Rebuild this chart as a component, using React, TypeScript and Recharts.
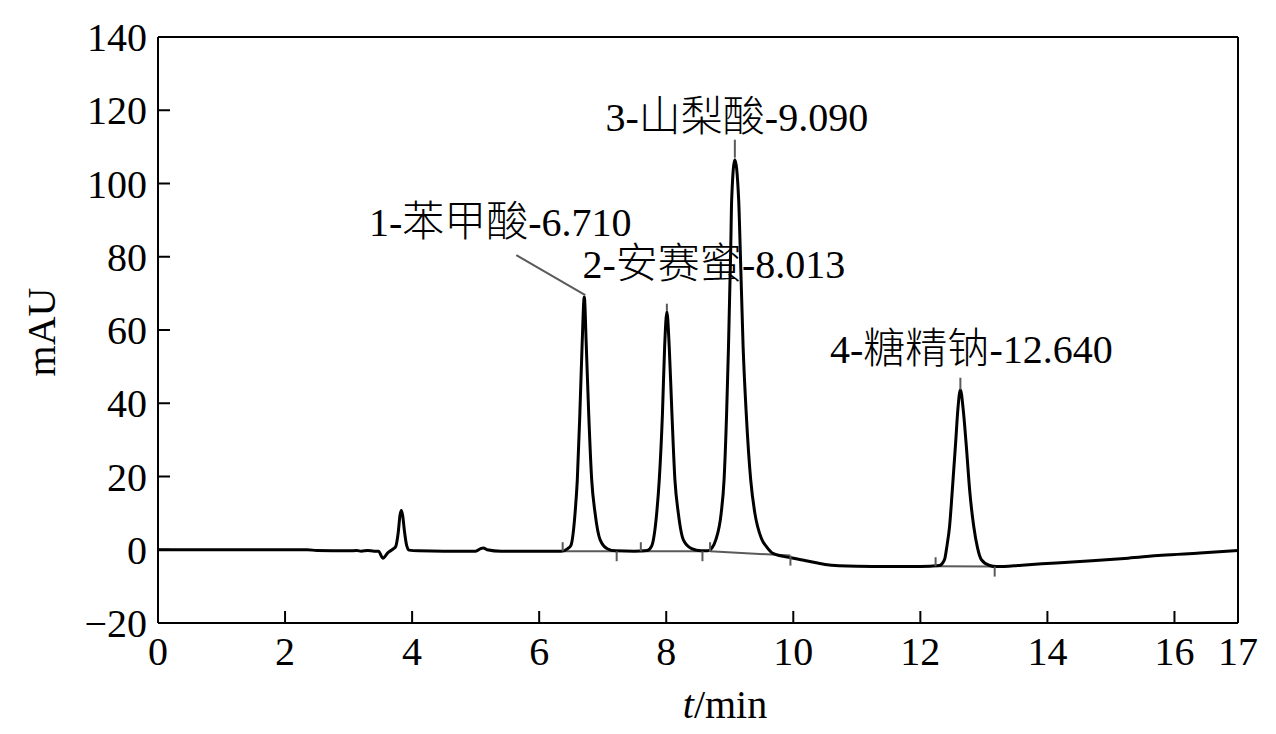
import React from "react";
import {
  ComposedChart,
  Line,
  Scatter,
  XAxis,
  YAxis,
  ReferenceLine,
} from "recharts";

// chromatogram trace (time in min, signal in mAU)
const traceTime = [
  0, 1, 2, 2.35, 2.5, 3.0, 3.13, 3.2, 3.3, 3.4, 3.47, 3.54, 3.62, 3.7, 3.74,
  3.78, 3.81, 3.83, 3.85, 3.88, 3.91, 3.95, 4.1, 4.5, 5.0, 5.08, 5.12, 5.18,
  5.4, 6.0, 6.35, 6.45, 6.5, 6.565, 6.6, 6.64, 6.675, 6.71, 6.742, 6.78, 6.827,
  6.88, 6.96, 7.08, 7.2, 7.5, 7.7, 7.77, 7.85, 7.89, 7.94, 7.975, 8.01, 8.047,
  8.09, 8.137, 8.19, 8.27, 8.4, 8.55, 8.66, 8.72, 8.78, 8.865, 8.91, 8.95, 8.98,
  9.015, 9.03, 9.08, 9.14, 9.165, 9.21, 9.26, 9.33, 9.395, 9.5, 9.58, 9.68,
  9.96, 10.2, 10.5, 11.0, 11.5, 12.0, 12.3, 12.38, 12.42, 12.46, 12.5, 12.555,
  12.59, 12.63, 12.675, 12.72, 12.78, 12.84, 12.9, 12.96, 13.09, 13.2, 13.6,
  14.14, 14.7, 15.27, 15.8, 16.4, 17.0,
];
const traceSignal = [
  0, 0, 0, 0, -0.2, -0.3, -0.2, -0.4, -0.2, -0.4, -0.4, -2.3, -0.8, 0.2, 0.8,
  4.5, 9.5, 10.7, 9.5, 5, 1.5, -0.1, -0.3, -0.4, -0.4, 0.3, 0.5, 0, -0.4, -0.4,
  -0.4, 0.3, 1.2, 10, 19, 37, 55.5, 69, 55.5, 37, 19, 10, 2.7, 0.2, -0.3, -0.4,
  -0.2, 1, 10, 19, 37, 55.5, 65, 55.5, 37, 19, 10, 2.7, 0.3, -0.3, -0.3, 0.5,
  2.7, 10, 19, 37, 55.5, 82, 95.6, 106.5, 95.6, 82, 55.5, 37, 19, 10, 3, 0.8,
  -1.0, -2.2, -3.0, -4.0, -4.5, -4.6, -4.6, -4.3, -2.7, 1.2, 6.4, 15.5, 29.1,
  38.2, 43.7, 38.2, 29.1, 15.5, 6.4, 0.5, -2.7, -4.3, -4.6, -4.2, -3.6, -3.0,
  -2.3, -1.5, -0.9, -0.2,
];

const xTicks = [0, 2, 4, 6, 8, 10, 12, 14, 16, 17];
const yTicks = [-20, 0, 20, 40, 60, 80, 100, 120, 140];

// peak annotations
const peakNames = [
  "1-苯甲酸-6.710",
  "2-安赛蜜-8.013",
  "3-山梨酸-9.090",
  "4-糖精钠-12.640",
];
const peakTimes = [6.71, 8.01, 9.08, 12.63];
const peakHeights = [69, 65, 106.5, 43.7];

// integration baselines under each peak
const baseStartTime = [6.37, 7.6, 8.69, 12.24];
const baseStartSignal = [-0.4, -0.4, -0.4, -4.5];
const baseEndTime = [7.22, 8.57, 9.955, 13.17];
const baseEndSignal = [-0.4, -0.4, -1.6, -4.6];

// label placement relative to the peak apex, in px
const labelLayout = [
  { dx: -84, dy: -61, line: [1, -2, -68, -42] },
  { dx: 47, dy: -34, line: [0, -8, 0, -1] },
  { dx: 2, dy: -29, line: [0, -20, 0, -2] },
  { dx: 11, dy: -27, line: [0, -12, 0, 0] },
];

const SERIF = "'Liberation Serif', 'Times New Roman', 'Noto Sans CJK SC', serif";
const GREY = "#5a5a5a";

const trace = traceTime.map((t, i) => ({ t, v: traceSignal[i] }));
const peaks = peakNames.map((name, i) => ({
  t: peakTimes[i],
  v: peakHeights[i],
  name,
  idx: i,
}));
const baselines = baseStartTime.map((t, i) => [
  { t, v: baseStartSignal[i] },
  { t: baseEndTime[i], v: baseEndSignal[i] },
]);

const tickStyle = { fontSize: 40, fill: "#000", fontFamily: SERIF };

// split a label into latin / CJK runs so the Chinese can be sized a bit up
function splitRuns(s: string) {
  return s.match(/[\u4e00-\u9fff]+|[^\u4e00-\u9fff]+/g) || [s];
}

function PeakLabel(props: any) {
  const { cx, cy, payload } = props;
  if (cx == null || cy == null) return null;
  const lay = labelLayout[payload.idx];
  return (
    <g>
      <line
        x1={cx + lay.line[0]}
        y1={cy + lay.line[1]}
        x2={cx + lay.line[2]}
        y2={cy + lay.line[3]}
        stroke={GREY}
        strokeWidth={2}
      />
      <text
        x={cx + lay.dx}
        y={cy + lay.dy}
        textAnchor="middle"
        fontSize={40}
        fontFamily={SERIF}
        fill="#000"
      >
        {splitRuns(payload.name).map((run, k) =>
          /[\u4e00-\u9fff]/.test(run) ? (
            <tspan key={k} fontSize={42} fontWeight={300}>
              {run}
            </tspan>
          ) : (
            <tspan key={k}>{run}</tspan>
          )
        )}
      </text>
    </g>
  );
}

// start of a baseline gets a tick upward, end a tick downward
function BaseTick(props: any) {
  const { cx, cy, index } = props;
  if (cx == null || cy == null) return <g key={`bt-${index}`} />;
  return (
    <line
      key={`bt-${index}-${cx}`}
      x1={cx}
      x2={cx}
      y1={cy}
      y2={cy + (index === 0 ? -9 : 10)}
      stroke={GREY}
      strokeWidth={2}
    />
  );
}

function XTitle(props: any) {
  const vb = props.viewBox || { x: 158, y: 623, width: 1080 };
  return (
    <text
      x={vb.x + vb.width / 2 + 27}
      y={vb.y + 95}
      textAnchor="middle"
      fontSize={40}
      fontFamily={SERIF}
      fill="#000"
    >
      <tspan fontStyle="italic">t</tspan>/min
    </text>
  );
}

function YTitle(props: any) {
  const vb = props.viewBox || { x: 0, y: 37, width: 158, height: 586 };
  const cx = 41;
  const cy = vb.y + vb.height / 2 + 2;
  return (
    <text
      x={cx}
      y={cy}
      dy="0.35em"
      textAnchor="middle"
      transform={`rotate(-90, ${cx}, ${cy})`}
      fontSize={40}
      fontFamily={SERIF}
      fill="#000"
    >
      mAU
    </text>
  );
}

export default function App() {
  return (
    <div
      style={{
        position: "absolute",
        left: 0,
        top: 0,
        width: 1276,
        height: 734,
        background: "#fff",
      }}
    >
      <ComposedChart
        width={1276}
        height={734}
        data={trace}
        margin={{ top: 37, right: 38, bottom: 0, left: 0 }}
      >
        <XAxis
          dataKey="t"
          type="number"
          domain={[0, 17]}
          ticks={xTicks}
          interval={0}
          allowDataOverflow
          height={111}
          tickSize={-12}
          tickMargin={26}
          axisLine={{ stroke: "#000", strokeWidth: 2 }}
          tickLine={{ stroke: "#000", strokeWidth: 2 }}
          tick={tickStyle}
          label={{ content: (p: any) => <XTitle {...p} /> }}
        />
        <YAxis
          type="number"
          domain={[-20, 140]}
          ticks={yTicks}
          interval={0}
          allowDataOverflow
          width={158}
          tickSize={-12}
          tickMargin={23}
          axisLine={{ stroke: "#000", strokeWidth: 2 }}
          tickLine={{ stroke: "#000", strokeWidth: 2 }}
          tick={tickStyle}
          tickFormatter={(v: number) => (v < 0 ? `\u2212${Math.abs(v)}` : `${v}`)}
          label={{ content: (p: any) => <YTitle {...p} /> }}
        />
        <ReferenceLine y={140} stroke="#000" strokeWidth={2} />
        <ReferenceLine x={17} stroke="#000" strokeWidth={2} />

        {baselines.map((seg, i) => (
          <Line
            key={`base-${i}`}
            data={seg}
            dataKey="v"
            type="linear"
            stroke={GREY}
            strokeWidth={2}
            dot={(p: any) => <BaseTick {...p} key={`d-${i}-${p.index}`} />}
            activeDot={false}
            isAnimationActive={false}
          />
        ))}

        <Line
          dataKey="v"
          type="monotone"
          stroke="#000"
          strokeWidth={3}
          dot={false}
          activeDot={false}
          isAnimationActive={false}
        />

        <Scatter
          data={peaks}
          dataKey="v"
          shape={(p: any) => <PeakLabel {...p} />}
          isAnimationActive={false}
        />
      </ComposedChart>
    </div>
  );
}
